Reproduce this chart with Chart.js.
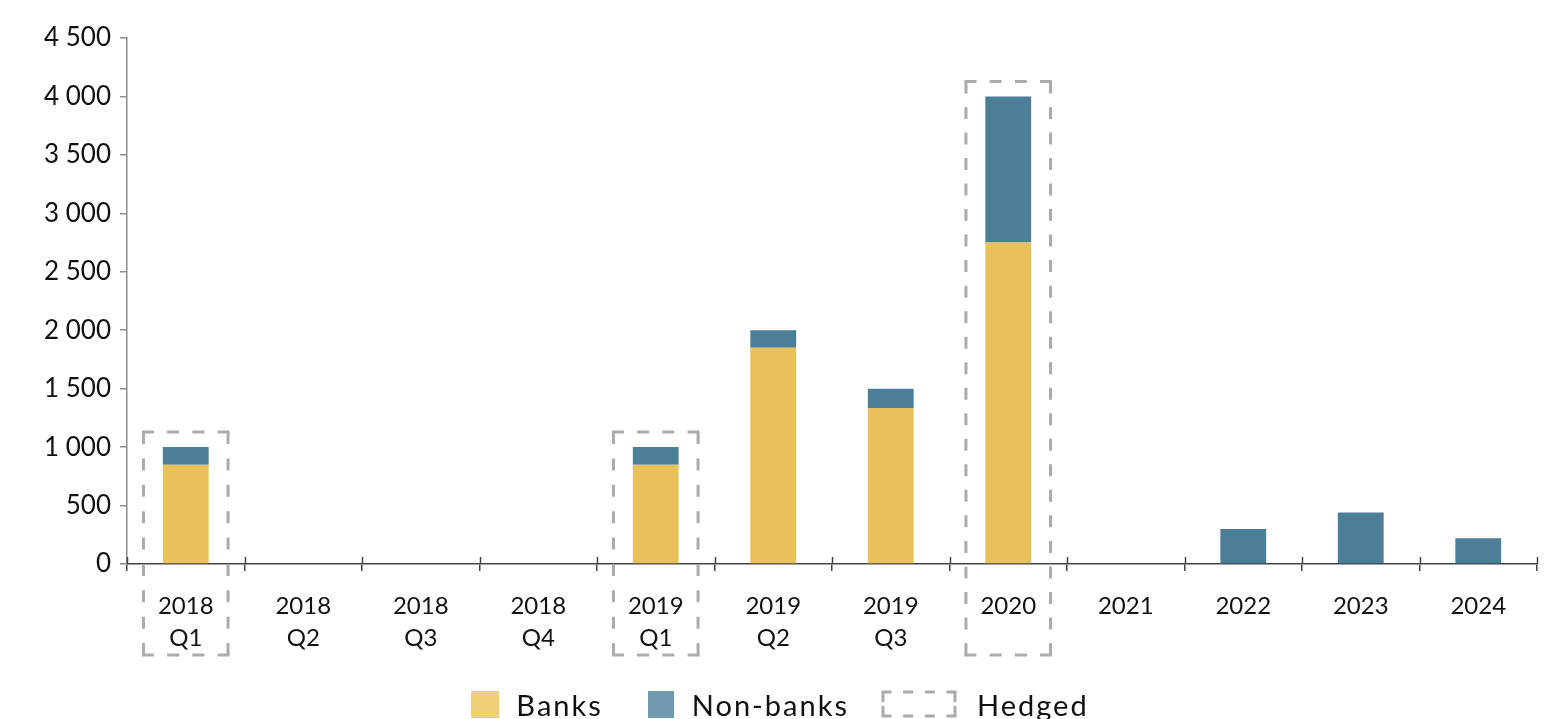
<!DOCTYPE html>
<html>
<head>
<meta charset="utf-8">
<script src="https://cdn.jsdelivr.net/npm/chart.js@4.4.1/dist/chart.umd.min.js"></script>
<style>
  html, body { margin: 0; padding: 0; background: #ffffff; }
  #wrap { position: relative; width: 1554px; height: 719px; overflow: hidden; }
  #c { position: absolute; left: 0; top: 0; }
  #legend {
    position: absolute; left: 0; top: 684px; width: 1554px; height: 40px;
    display: flex; justify-content: center; align-items: center;
    font-family: Lato, "Noto Sans", sans-serif; font-size: 29px; letter-spacing: 2px; color: #111;
    padding-left: 6px; box-sizing: border-box;
  }
  .item { display: flex; align-items: center; }
  .sw { display: inline-block; }
</style>
</head>
<body>
<div id="wrap">
  <canvas id="c" width="1554" height="719"></canvas>
  <div id="legend"></div>
</div>
<script>
// ---- data ----
const categories = [["2018", "Q1"], ["2018", "Q2"], ["2018", "Q3"], ["2018", "Q4"], ["2019", "Q1"], ["2019", "Q2"], ["2019", "Q3"], "2020", "2021", "2022", "2023", "2024"];
const banks    = [850, null, null, null, 850, 1850, 1335, 2750, null, null, null, null];
const nonBanks = [150, null, null, null, 150, 150, 165, 1250, null, 300, 440, 220];
const hedged   = [true, false, false, false, true, false, false, true, false, false, false, false];
const seriesNames = ["Banks", "Non-banks", "Hedged"];
const yMin = 0, yMax = 4500, yStep = 500;

// ---- styles ----
const BANK_COLOR = "#E8C15A";
const NONBANK_COLOR = "#4B7F97";
const BANK_LEGEND = "#EDCF78";
const NONBANK_LEGEND = "#709BAE";
const DASH_COLOR = "#ABABAB";

Chart.defaults.font.family = "Lato, 'Noto Sans', sans-serif";
Chart.defaults.color = "#111111";

function fmt(v) {
  if (v >= 1000) {
    const th = Math.floor(v / 1000);
    const rest = String(v % 1000).padStart(3, "0");
    return th + " " + rest;
  }
  return String(v);
}

function dashedSide(ctx, x1, y1, x2, y2, dash, gapTarget) {
  const len = Math.hypot(x2 - x1, y2 - y1);
  let n = Math.max(2, Math.round((len + gapTarget) / (dash + gapTarget)));
  const gap = (len - n * dash) / (n - 1);
  ctx.setLineDash([dash, gap]);
  ctx.beginPath();
  ctx.moveTo(x1, y1);
  ctx.lineTo(x2, y2);
  ctx.stroke();
}

function dashedRect(ctx, l, t, r, b, dash, gap) {
  ctx.save();
  ctx.strokeStyle = DASH_COLOR;
  ctx.lineWidth = 3;
  ctx.lineCap = "butt";
  dashedSide(ctx, l - 1.5, t, r + 1.5, t, dash, gap);
  dashedSide(ctx, l - 1.5, b, r + 1.5, b, dash, gap);
  dashedSide(ctx, l, t, l, b, dash, gap);
  dashedSide(ctx, r, t, r, b, dash, gap);
  ctx.restore();
}

const hedgedPlugin = {
  id: "hedgedBoxes",
  afterDraw(chart) {
    const xs = chart.scales.x, ys = chart.scales.y, ctx = chart.ctx;
    const cw = xs.width / categories.length;
    // tick marks crossing above the x axis
    ctx.save();
    ctx.strokeStyle = "#444";
    ctx.lineWidth = 1.5;
    for (let i = 0; i <= categories.length; i++) {
      const x = Math.round(xs.left + i * cw) + 0.5;
      ctx.beginPath();
      ctx.moveTo(x, ys.bottom - 7);
      ctx.lineTo(x, ys.bottom);
      ctx.stroke();
    }
    ctx.restore();
    categories.forEach((c, i) => {
      if (!hedged[i]) return;
      const total = (banks[i] || 0) + (nonBanks[i] || 0);
      const cx = xs.getPixelForValue(i);
      const l = cx - cw * 0.36, r = cx + cw * 0.36;
      const t = ys.getPixelForValue(total) - 15;
      const b = ys.bottom + 91;
      dashedRect(ctx, l, t, r, b, 12, 14);
    });
  }
};

const ctx = document.getElementById("c").getContext("2d");
new Chart(ctx, {
  type: "bar",
  data: {
    labels: categories,
    datasets: [
      { label: seriesNames[0], data: banks, backgroundColor: BANK_COLOR, borderWidth: 0 },
      { label: seriesNames[1], data: nonBanks, backgroundColor: NONBANK_COLOR, borderWidth: 0 }
    ]
  },
  options: {
    responsive: false,
    animation: false,
    devicePixelRatio: 1,
    layout: { padding: { top: 38, right: 17, left: 0, bottom: 0 } },
    datasets: { bar: { categoryPercentage: 1.0, barPercentage: 0.39 } },
    plugins: { legend: { display: false }, tooltip: { enabled: false } },
    scales: {
      x: {
        stacked: true,
        offset: true,
        grid: { display: true, drawOnChartArea: false, offset: true, tickLength: 7, color: "#444", lineWidth: 1.5 },
        border: { display: true, color: "#444", width: 1.5 },
        ticks: { font: { size: 24, lineHeight: 1.3 }, color: "#111", padding: 20, maxRotation: 0, autoSkip: false },
        afterFit(s) { s.height = 719 - 564; }
      },
      y: {
        stacked: true,
        min: yMin, max: yMax,
        grid: { display: true, drawOnChartArea: false, tickLength: 7, color: "#8C8C8C", lineWidth: 1.5 },
        border: { display: true, color: "#8C8C8C", width: 1.5 },
        ticks: { stepSize: yStep, font: { size: 26 }, color: "#111", padding: 9, callback: (v) => fmt(v) },
        afterFit(s) { s.width = 127; }
      }
    }
  },
  plugins: [hedgedPlugin]
});

// ---- HTML legend ----
const legend = document.getElementById("legend");
function addItem(text, swatchEl, gapAfterSwatch, marginRight) {
  const it = document.createElement("div");
  it.className = "item";
  it.style.marginRight = marginRight + "px";
  it.appendChild(swatchEl);
  const sp = document.createElement("span");
  sp.textContent = text;
  sp.style.marginLeft = gapAfterSwatch + "px";
  it.appendChild(sp);
  legend.appendChild(it);
}
function box(w, h, color) {
  const s = document.createElement("span");
  s.className = "sw";
  s.style.width = w + "px";
  s.style.height = h + "px";
  s.style.background = color;
  return s;
}
addItem(seriesNames[0], box(28, 27, BANK_LEGEND), 17, 45);
addItem(seriesNames[1], box(26, 27, NONBANK_LEGEND), 18, 32);
const dc = document.createElement("canvas");
dc.width = 76; dc.height = 28;
dashedRect(dc.getContext("2d"), 2, 2, 74, 26, 10, 12);
addItem(seriesNames[2], dc, 20, 0);
</script>
</body>
</html>
